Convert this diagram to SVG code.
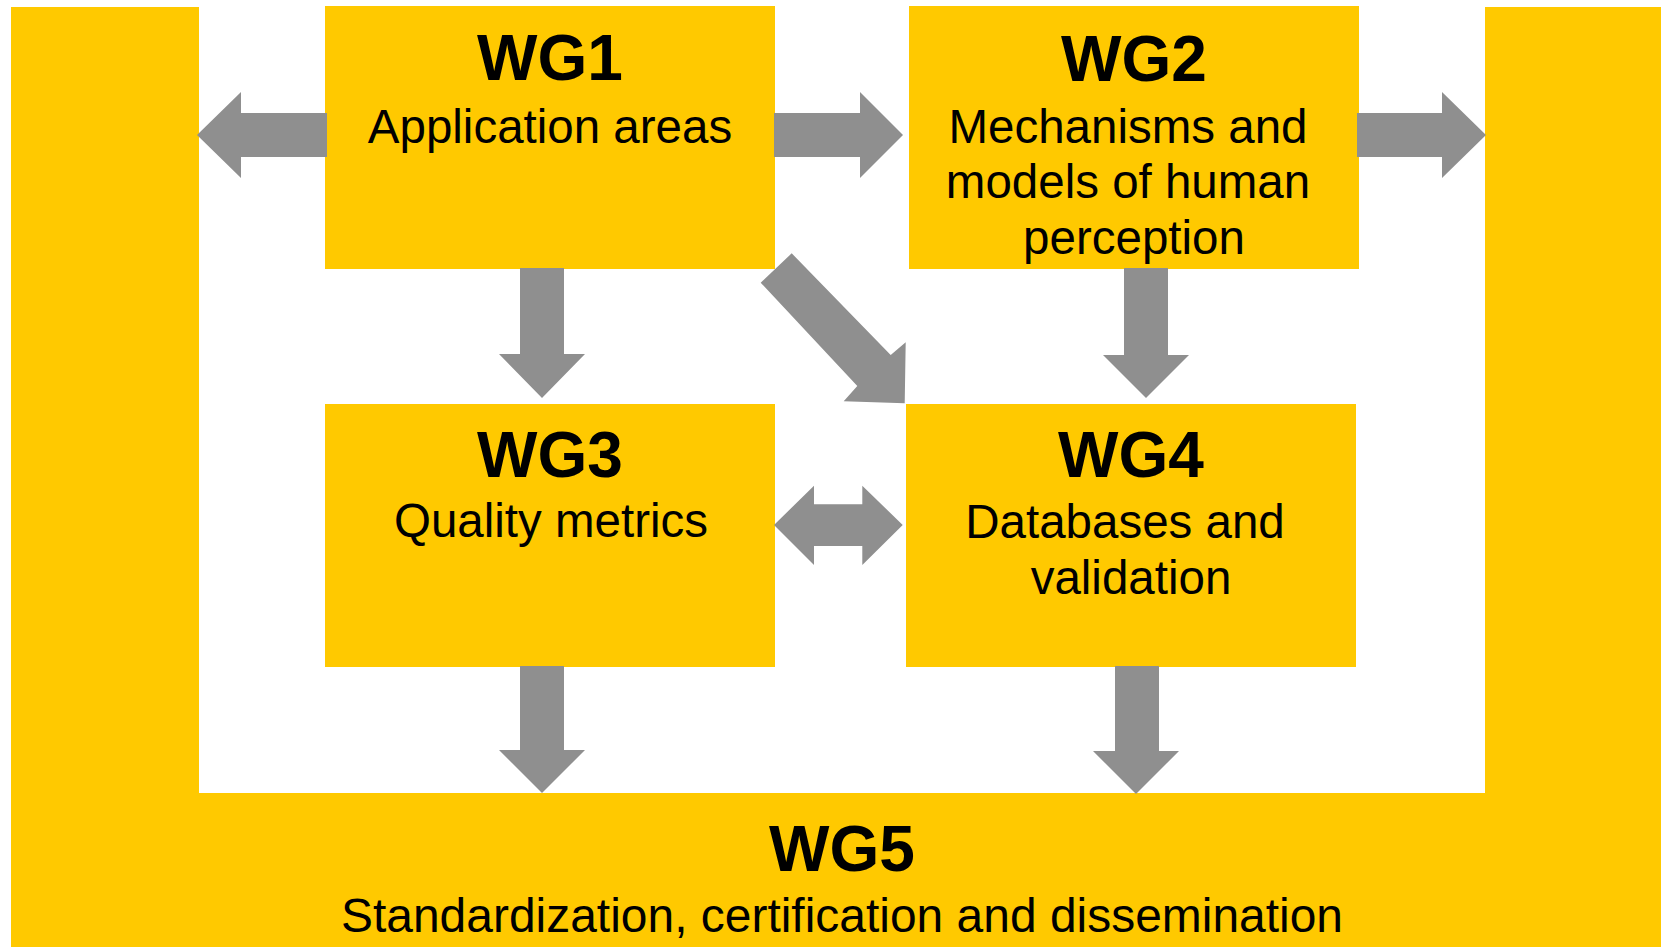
<svg xmlns="http://www.w3.org/2000/svg" width="1661" height="947" viewBox="0 0 1661 947">
  <style>
    .box { fill: #FFC900; }
    .arrow { fill: #8F8F8F; }
    .title { font-family: "Liberation Sans", Arial, sans-serif; font-weight: bold; font-size: 64px; fill: #000; text-anchor: middle; }
    .label { font-family: "Liberation Sans", Arial, sans-serif; font-size: 47.5px; fill: #000; text-anchor: middle; }
  </style>
  <rect x="0" y="0" width="1661" height="947" fill="#FFFFFF"/>

  <g id="wg5">
    <path class="box" d="M11,7 H199 V793 H1485 V7 H1661 V947 H11 Z"/>
    <text class="title" x="842" y="871">WG5</text>
    <text class="label" x="842" y="932" textLength="1002" lengthAdjust="spacingAndGlyphs">Standardization, certification and dissemination</text>
  </g>

  <g id="wg1">
    <rect class="box" x="325" y="6" width="450" height="263"/>
    <text class="title" x="550" y="80">WG1</text>
    <text class="label" x="550" y="142.5">Application areas</text>
  </g>

  <g id="wg2">
    <rect class="box" x="909" y="6" width="450" height="263"/>
    <text class="title" x="1134" y="81">WG2</text>
    <text class="label" x="1128" y="142.5">Mechanisms and</text>
    <text class="label" x="1128" y="198">models of human</text>
    <text class="label" x="1134" y="254">perception</text>
  </g>

  <g id="wg3">
    <rect class="box" x="325" y="404" width="450" height="263"/>
    <text class="title" x="550" y="477">WG3</text>
    <text class="label" x="551" y="537">Quality metrics</text>
  </g>

  <g id="wg4">
    <rect class="box" x="906" y="404" width="450" height="263"/>
    <text class="title" x="1131" y="477">WG4</text>
    <text class="label" x="1125" y="538">Databases and</text>
    <text class="label" x="1131" y="594">validation</text>
  </g>

  <g id="connectors">
    <!-- WG1 -> WG5 left -->
    <polygon class="arrow" points="327,113 241,113 241,92 197,135 241,178 241,157 327,157"/>
    <!-- WG1 -> WG2 -->
    <polygon class="arrow" points="774,113 860,113 860,92 903,135 860,178 860,157 774,157"/>
    <!-- WG2 -> WG5 right -->
    <polygon class="arrow" points="1357,113 1442,113 1442,92 1486,135 1442,178 1442,157 1357,157"/>
    <!-- WG1 -> WG3 -->
    <polygon class="arrow" points="520,268 564,268 564,354 585,354 542,398 499,354 520,354"/>
    <!-- WG2 -> WG4 -->
    <polygon class="arrow" points="1124,268 1168,268 1168,355 1189,355 1146,398 1103,355 1124,355"/>
    <!-- WG1 -> WG4 diagonal -->
    <polygon class="arrow" points="760.7,282.7 791.7,253.3 890.7,355 905.7,342.3 904.7,403.3 843.7,401.3 857.3,386"/>
    <!-- WG3 <-> WG4 -->
    <polygon class="arrow" points="774,525 814,485.7 814,504.3 862.3,504.3 862.3,485.7 902.7,525 862.3,565 862.3,546 814,546 814,565"/>
    <!-- WG3 -> WG5 -->
    <polygon class="arrow" points="520,666 564,666 564,750 585,750 542,793 499,750 520,750"/>
    <!-- WG4 -> WG5 -->
    <polygon class="arrow" points="1115,666 1159,666 1159,751 1179,751 1136,794 1093,751 1115,751"/>
  </g>
</svg>
